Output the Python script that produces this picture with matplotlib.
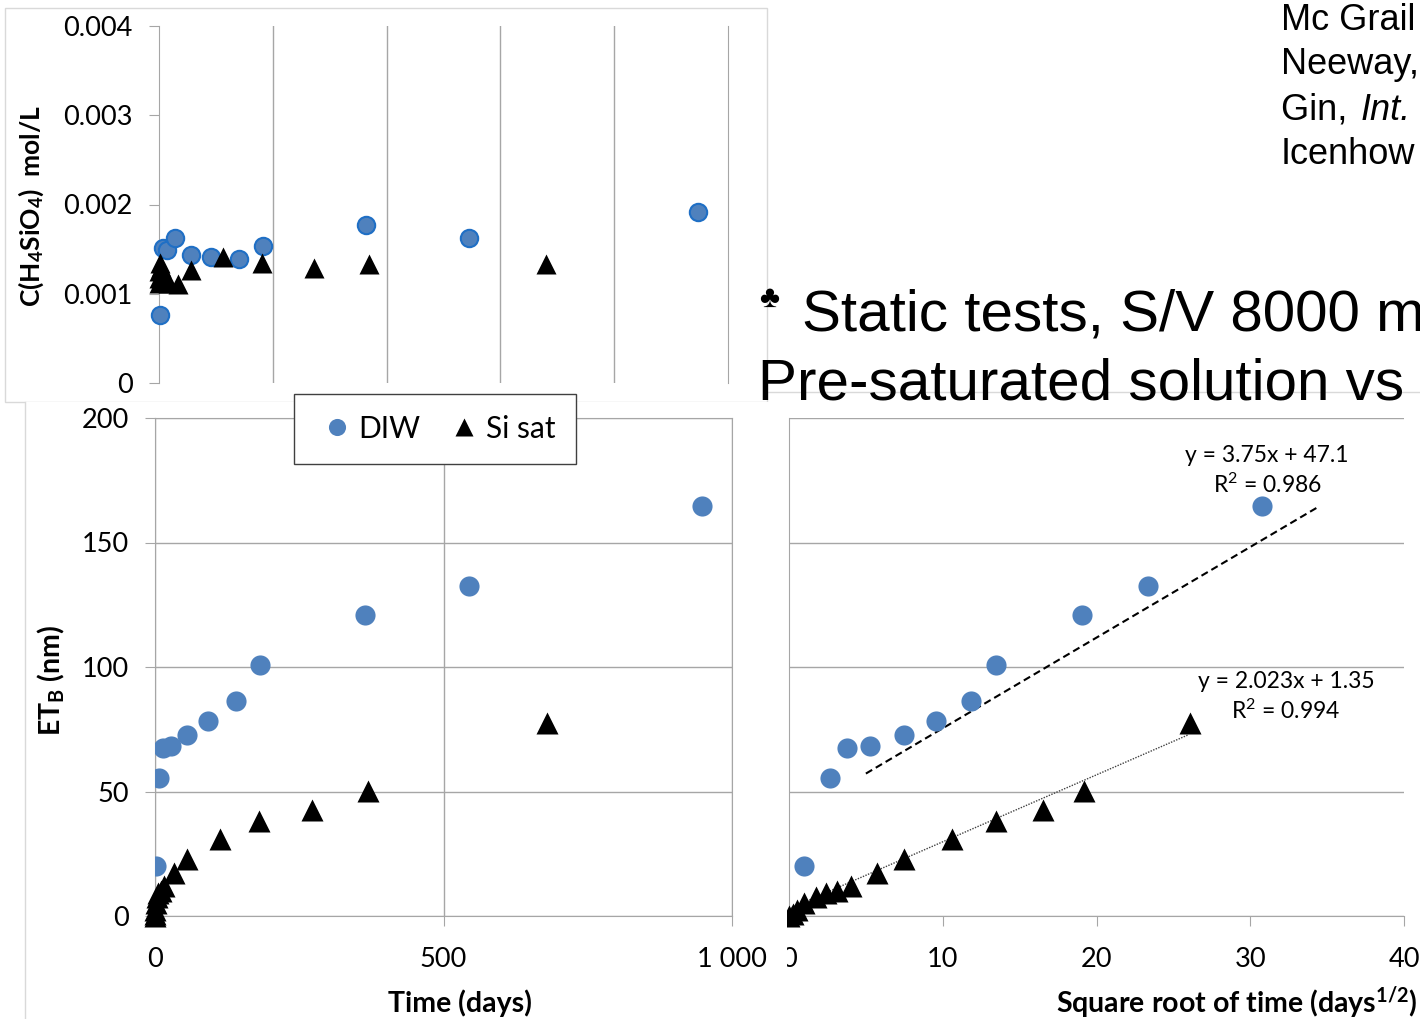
import numpy as np
import matplotlib
matplotlib.use("Agg")
import matplotlib.pyplot as plt
from matplotlib.patches import Rectangle
from matplotlib.lines import Line2D

plt.rcParams['font.family'] = ['Lato', 'DejaVu Sans']
plt.rcParams['mathtext.fontset'] = 'custom'
plt.rcParams['mathtext.rm'] = 'Lato'
plt.rcParams['mathtext.it'] = 'Lato:italic'
plt.rcParams['mathtext.bf'] = 'Lato:bold'

# ---- data ----
diw_t = [1, 7, 14, 28, 56, 91, 140, 182, 364, 545, 948]
diw_etb = [20.0, 55.5, 67.3, 68.1, 72.6, 78.5, 86.4, 101.0, 120.7, 132.7, 164.8]
diw_conc = [0.00076, 0.00151, 0.00149, 0.00162, 0.00143, 0.00141, 0.00139,
            0.00153, 0.00177, 0.00162, 0.00192]

si_t = [0, 0.07, 0.3, 0.92, 3, 5.9, 9.8, 16, 33, 56, 112, 181, 272, 369, 680]
si_etb = [0, 1.0, 2.5, 5.1, 7.8, 9.4, 10.2, 12.0, 17.2, 22.7, 31.1, 38.0, 42.6, 50.4, 77.7]
si_conc = [0.00112, 0.00118, 0.00125, 0.00135, 0.00130, 0.00116, 0.00121, 0.00112,
           0.00111, 0.00127, 0.00141, 0.00134, 0.00129, 0.00133, 0.00133]

# trend lines as drawn (slope, intercept) and their x extent in sqrt(days)
diw_fit = (3.64, 39.0)
diw_fit_x = (5.0, 34.4)
si_fit = (2.69, 2.9)
si_fit_x = (0.0, 26.0)
diw_eq = ["y = 3.75x + 47.1", "R$^2$ = 0.986"]
si_eq = ["y = 2.023x + 1.35", "R$^2$ = 0.994"]

t_ticks = [0, 500, 1000]
t_ticklabels = ["0", "500", "1 000"]
sq_ticks = [0, 10, 20, 30, 40]
etb_ticks = [0, 50, 100, 150, 200]
conc_ticks = [0, 0.001, 0.002, 0.003, 0.004]
conc_ticklabels = ["0", "0.001", "0.002", "0.003", "0.004"]

BLUE = '#4F81BD'
GRID = '#A6A6A6'
FRAME = '#D9D9D9'
TICK_FS = 19.5

W, H = 1420, 1019
fig = plt.figure(figsize=(W / 100, H / 100), dpi=100)


def rect(l, t, r, b):
    return [l / W, 1 - b / H, (r - l) / W, (b - t) / H]


def fx(x):
    return x / W


def fy(y):
    return 1 - y / H


# ---- right chart (sqrt time) - lowest layer ----
fig.add_artist(Rectangle((fx(700), fy(1030)), fx(760), (1030 - 392) / H,
                         transform=fig.transFigure, fc='white', ec=FRAME, lw=1, zorder=0.1))
ax_r = fig.add_axes(rect(789, 418, 1404, 916), zorder=0.2)
ax_r.patch.set_visible(False)
sq_diw = np.sqrt(diw_t)
sq_si = np.sqrt(si_t)
xs = np.array(diw_fit_x)
ax_r.plot(xs, diw_fit[0] * xs + diw_fit[1], color='black', ls=(0, (3.5, 2)), lw=1.5, zorder=2)
xs = np.array(si_fit_x)
ax_r.plot(xs, si_fit[0] * xs + si_fit[1], color='#404040', ls=(0, (1, 1)), lw=1.0, zorder=2)
ax_r.plot(sq_diw, diw_etb, 'o', color=BLUE, ms=14.5, mec='none', zorder=3)
ax_r.plot(sq_si, si_etb, '^', color='black', ms=15.5, mec='none', zorder=3, clip_on=False)
ax_r.set_xlim(0, 40)
ax_r.set_ylim(0, 200)
ax_r.set_xticks(sq_ticks)
ax_r.set_yticks(etb_ticks)
ax_r.set_yticklabels([])
ax_r.grid(axis='y', color=GRID, lw=1.0)
ax_r.set_axisbelow(True)
for s in ['top', 'right']:
    ax_r.spines[s].set_visible(False)
for s in ['left', 'bottom']:
    ax_r.spines[s].set_color(GRID)
ax_r.tick_params(axis='x', direction='out', length=7, color=GRID, labelsize=TICK_FS, pad=15)
ax_r.tick_params(axis='y', length=0)

# ---- top chart (silica concentration) ----
fig.add_artist(Rectangle((fx(5), fy(402)), fx(762), (402 - 8) / H,
                         transform=fig.transFigure, fc='white', ec=FRAME, lw=1, zorder=0.3))
ax_t = fig.add_axes(rect(159, 26, 728, 383), zorder=0.4)
ax_t.patch.set_visible(False)
ax_t.plot(diw_t, diw_conc, 'o', mfc=BLUE, mec='#1F6FC5', mew=1.5, ms=12.5, zorder=3, clip_on=False)
ax_t.plot(si_t, si_conc, '^', color='black', ms=14, mec='none', zorder=3, clip_on=False)
ax_t.set_xlim(0, 1000)
ax_t.set_ylim(0, 0.004)
ax_t.set_xticks([200, 400, 600, 800])
ax_t.set_xticklabels([])
ax_t.set_yticks(conc_ticks)
ax_t.set_yticklabels(conc_ticklabels)
ax_t.grid(axis='x', color=GRID, lw=1.0)
ax_t.set_axisbelow(True)
for s in ['top', 'bottom']:
    ax_t.spines[s].set_visible(False)
ax_t.spines['left'].set_color(GRID)
ax_t.spines['right'].set_color(GRID)
ax_t.tick_params(axis='x', length=0)
ax_t.tick_params(axis='y', direction='out', length=7, color=GRID, labelsize=TICK_FS, pad=12)
fig.text(fx(31), fy(206), 'C(H$_\\mathbf{4}$SiO$_\\mathbf{4}$)  mol/L', rotation=90, ha='center',
         va='center', fontsize=19, fontweight='bold', zorder=5)

# ---- left chart (linear time) - on top ----
fig.add_artist(Rectangle((fx(25), fy(1030)), fx(762), (1030 - 402) / H,
                         transform=fig.transFigure, fc='white', ec='none', zorder=0.5))
fig.add_artist(Line2D([fx(25), fx(25)], [fy(402), fy(1030)], transform=fig.transFigure,
                      color=FRAME, lw=1, zorder=0.55))
ax_l = fig.add_axes(rect(155, 418, 732, 916), zorder=0.6)
ax_l.plot(diw_t, diw_etb, 'o', color=BLUE, ms=14.5, mec='none', zorder=3, label='DIW')
ax_l.plot(si_t, si_etb, '^', color='black', ms=15.5, mec='none', zorder=3, label='Si sat',
          clip_on=False)
ax_l.set_xlim(0, 1000)
ax_l.set_ylim(0, 200)
ax_l.set_xticks(t_ticks)
ax_l.set_xticklabels(t_ticklabels)
ax_l.set_yticks(etb_ticks)
ax_l.grid(color=GRID, lw=1.0)
ax_l.set_axisbelow(True)
for s in ax_l.spines.values():
    s.set_color(GRID)
ax_l.tick_params(direction='out', length=7, color=GRID, labelsize=TICK_FS, pad=15)
ax_l.tick_params(axis='y', pad=12)
fig.text(fx(51), fy(680), 'ET$_\\mathbf{B}$ (nm)', rotation=90, ha='center', va='center',
         fontsize=20.5, fontweight='bold', zorder=5)

leg = ax_l.legend(loc='upper left', bbox_to_anchor=(fx(294), fy(394)), bbox_transform=fig.transFigure,
                  ncol=2, fontsize=21.5, frameon=True, fancybox=False, borderaxespad=0,
                  handlelength=1.45, handletextpad=0.0, columnspacing=0.75, borderpad=0.7,
                  markerscale=0.85)
leg.get_frame().set_edgecolor('#404040')
leg.get_frame().set_linewidth(1.0)
leg.get_frame().set_alpha(1)

# axis titles placed as on the slide
fig.text(fx(460), fy(1003), 'Time (days)', ha='center', va='center', fontsize=20.5,
         fontweight='bold', zorder=5)
fig.text(fx(1418), fy(1003), 'Square root of time (days$^\\mathbf{1/2}$)', ha='right',
         va='center', fontsize=20.5, fontweight='bold', zorder=5)

# trend line equations
fig.text(fx(1267), fy(455), diw_eq[0], ha='center', va='center', fontsize=16.5, zorder=5)
fig.text(fx(1267), fy(485), diw_eq[1], ha='center', va='center', fontsize=16.5, zorder=5)
fig.text(fx(1286), fy(681), si_eq[0], ha='center', va='center', fontsize=16.5, zorder=5)
fig.text(fx(1286), fy(711), si_eq[1], ha='center', va='center', fontsize=16.5, zorder=5)

# slide text
sans = ['Liberation Sans', 'DejaVu Sans']
refs = ["Mc Grail", "Neeway,", "Gin, ", "Icenhow"]
for i, s in enumerate(refs):
    fig.text(fx(1281), fy(20 + 45 * i), s, ha='left', va='center', fontsize=26, family=sans, zorder=5)
fig.text(fx(1361), fy(110), "Int.", ha='left', va='center', fontsize=26, style='italic',
         family=sans, zorder=5)
fig.text(fx(759), fy(299), "\u2663", ha='left', va='center', fontsize=22, family=sans, zorder=5)
fig.text(fx(802), fy(331), "Static tests, S/V 8000 m", ha='left', va='baseline', fontsize=42,
         family=sans, zorder=5)
fig.text(fx(758), fy(400), "Pre-saturated solution vs", ha='left', va='baseline', fontsize=42,
         family=sans, zorder=5)

fig.savefig('out.png', dpi=100, facecolor='white')
